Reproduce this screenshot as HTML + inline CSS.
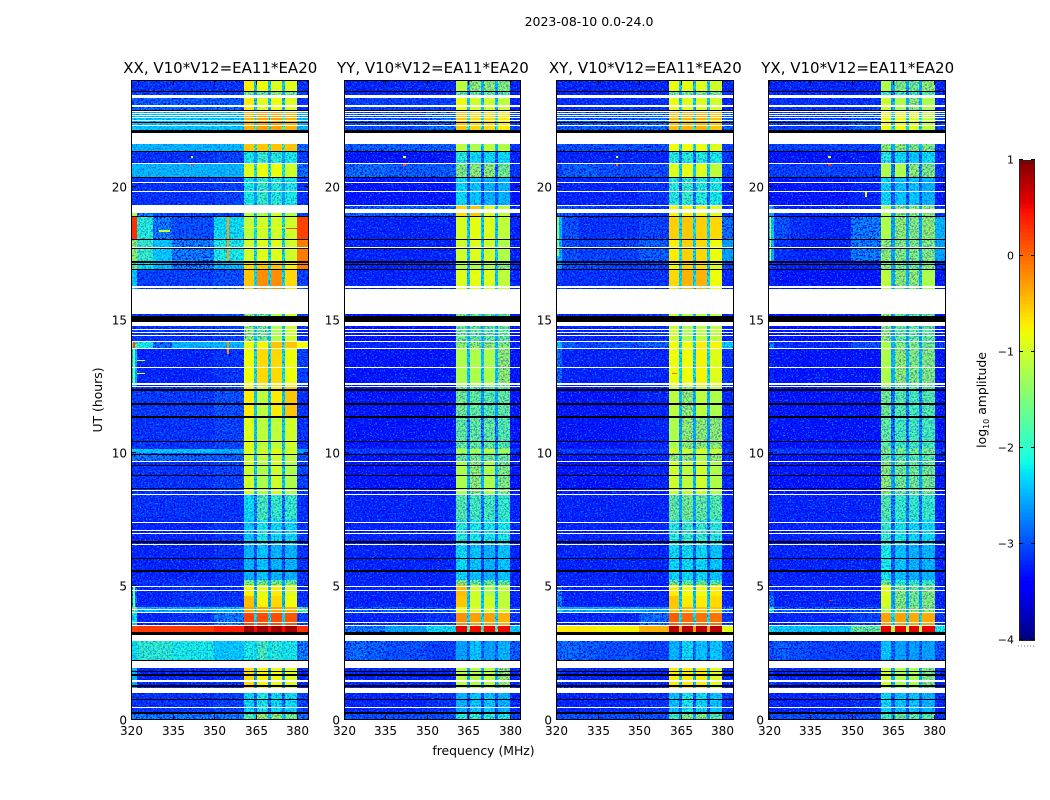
<!DOCTYPE html>
<html lang="en">
<head>
<meta charset="utf-8">
<title>2023-08-10 spectrogram</title>
<style>
html,body{margin:0;padding:0;background:#fff;width:1050px;height:800px;overflow:hidden}
svg{display:block}
text{font-family:"DejaVu Sans","Liberation Sans",sans-serif;fill:#000}
.tick{font-size:12px}
.title{font-size:15px}
.axis{font-size:12.4px}
</style>
</head>
<body>
<svg id="figure" xmlns="http://www.w3.org/2000/svg" width="1050" height="800" viewBox="0 0 1050 800">
  <defs>
    <filter id="speckle-light" x="0" y="0" width="1" height="1" color-interpolation-filters="sRGB">
      <feTurbulence type="fractalNoise" baseFrequency="0.62" numOctaves="2" seed="4"/>
      <feColorMatrix type="matrix" values="0 0 0 0 0  0 0 0 0 0.5  0 0 0 0 1  0 6 0 0 -3.25"/>
    </filter>
    <filter id="speckle-dark" x="0" y="0" width="1" height="1" color-interpolation-filters="sRGB">
      <feTurbulence type="fractalNoise" baseFrequency="0.58" numOctaves="2" seed="11"/>
      <feColorMatrix type="matrix" values="0 0 0 0 0  0 0 0 0 0  0 0 0 0 0.94  0 6 0 0 -2.95"/>
    </filter>
  </defs>
  <text x="589" y="26" text-anchor="middle" style="font-size:12.5px">2023-08-10 0.0-24.0</text>
  <text class="axis" transform="translate(102,400) rotate(-90)" text-anchor="middle">UT (hours)</text>
  <text class="axis" x="483.5" y="755" text-anchor="middle">frequency (MHz)</text>
  <text class="axis" transform="translate(986,400) rotate(-90)" text-anchor="middle">log<tspan font-size="8" dy="3">10</tspan><tspan dy="-3"> amplitude</tspan></text>
  <g id="panels"></g>
  <g id="colorbar"></g>
</svg>
<script>
// Band edges in UT hours shared by every polarisation panel.
const timeEdges = [0,0.29,1,2.23,3.17,3.51,4,4.22,4.65,5.05,5.23,6.55,7.5,8.42,9.7,10,10.15,11.35,12.51,13.94,14.2,15.22,16.16,16.87,17.17,18,18.86,19.3,20.36,20.84,21.32,22,22.84,23.33,23.58,24];
// Frequency channel edges in MHz.
const freqEdges = [320,322,328,335,350,360.8,364.6,365.7,369.7,370.8,374.7,375.8,380.2,384];
// Which level column each frequency channel reads.
const channelColumn = [0,1,2,3,4,5,9,6,9,7,9,8,10];
// Masked (blank) and flagged (black) UT intervals.
const blankRows = [[0.43,0.48],[1,1.19],[1.42,1.48],[1.94,2.18],[2.95,3.17],[3.51,3.55],[3.62,3.66],[4,4.03],[4.1,4.13],[4.83,4.87],[4.97,5],[6.55,6.6],[6.96,7],[7.07,7.11],[7.37,7.41],[8.42,8.46],[8.57,8.61],[9.65,9.7],[12.49,12.53],[12.57,12.61],[13.19,13.23],[13.9,13.94],[14.18,14.22],[14.39,14.43],[14.52,14.55],[14.62,14.65],[14.77,14.92],[15.22,16.17],[16.19,16.27],[17.7,17.75],[19.27,19.31],[19,19.16],[19.78,19.82],[20.13,20.17],[20.85,20.88],[21.6,22.02],[22.27,22.31],[22.47,22.5],[22.57,22.6],[22.65,22.68],[22.74,22.77],[22.81,22.84],[22.98,23.06],[23.33,23.43]];
const blackRows = [[0.21,0.29],[0.74,0.78],[1.23,1.28],[1.65,1.69],[1.78,1.83],[2.2,2.23],[3.17,3.28],[5.55,5.61],[6.03,6.07],[6.64,6.7],[8.65,8.69],[9.14,9.18],[9.52,9.55],[9.93,9.97],[10.4,10.44],[11.33,11.39],[11.8,11.86],[12.33,12.4],[14.92,15.14],[16.87,16.9],[17.05,17.08],[17.15,17.19],[17.67,17.7],[18.01,18.05],[18.84,18.88],[20.32,20.36],[21.3,21.34],[22.02,22.14],[22.4,22.44],[22.85,22.88],[23.57,23.6]];
// log10 amplitude per band; columns: edge, 322-328, 328-335, 335-350, 350-360, four passbands, notch, 380+.
const xxLevels = [
[-2.6,-2.6,-2.6,-2.6,-2.6,-1.7,-1.3,-1.3,-1.5,-2.3,-2.7],
[-3.1,-3.1,-3.1,-3.1,-3.0,-2.2,-2.1,-2.2,-2.2,-2.7,-3.0],
[-2.4,-3.2,-3.2,-3.2,-3.1,-0.6,-0.75,-0.8,-0.9,-2.5,-3.2],
[-2.2,-1.95,-1.95,-2.1,-2.3,-2.1,-1.8,-2.0,-2.1,-2.2,-2.6],
[0.2,0.25,0.25,0.25,0.4,0.85,0.85,0.85,0.85,0.5,0.3],
[-2.2,-3.2,-3.2,-3.1,-2.6,0.2,0.15,0.15,0.1,-2.2,-3.0],
[-1.5,-2.4,-2.4,-2.4,-2.3,-0.3,-0.3,-0.3,-0.4,-1.8,-1.7],
[-2.6,-3.2,-3.2,-3.1,-3.1,-0.45,-0.75,-0.6,-0.8,-2.4,-3.1],
[-2.6,-3.2,-3.2,-3.1,-3.1,-0.75,-0.85,-0.7,-0.9,-2.4,-3.1],
[-3.1,-3.1,-3.1,-3.1,-3.1,-1.5,-1.6,-1.6,-1.6,-2.5,-3.1],
[-3.2,-3.2,-3.2,-3.2,-3.1,-2.4,-2.3,-2.4,-2.4,-2.9,-3.1],
[-3.2,-3.2,-3.2,-3.2,-3.1,-2.3,-2.1,-2.2,-2.2,-2.7,-3.1],
[-3.1,-3.1,-3.1,-3.1,-3.1,-2.2,-1.8,-1.9,-1.9,-2.6,-3.1],
[-3.1,-3.1,-3.1,-3.1,-3.0,-1.0,-1.2,-1.0,-1.2,-2.3,-3.0],
[-2.7,-2.7,-2.7,-2.8,-2.8,-1.0,-1.1,-1.0,-1.1,-2.3,-2.9],
[-2.2,-2.3,-2.3,-2.3,-2.4,-0.9,-1.0,-0.85,-1.0,-2.0,-2.5],
[-3.1,-3.1,-3.1,-3.1,-3.0,-0.9,-1.1,-1.1,-1.0,-2.3,-3.1],
[-3.05,-3.05,-3.05,-3.05,-2.9,-0.7,-1.1,-0.7,-0.5,-2.3,-3.1],
[-2.4,-3.2,-3.2,-3.2,-3.1,-0.8,-0.6,-0.6,-0.8,-2.2,-3.0],
[-1.6,-2.1,-2.7,-2.4,-2.4,-0.8,-0.75,-0.5,-0.5,-2.0,-0.8],
[-3.1,-3.1,-3.1,-3.1,-3.0,-1.3,-1.5,-1.2,-1.0,-2.3,-3.1],
[-3.1,-3.1,-3.1,-3.1,-3.0,-1.3,-1.5,-1.2,-1.0,-2.3,-3.1],
[-2.3,-3.0,-3.0,-3.0,-2.9,-0.5,-0.2,-0.2,-0.6,-2.2,-3.0],
[-1.5,-2.2,-2.4,-2.6,-2.4,-0.6,-0.5,-0.5,-0.7,-2.2,-0.1],
[-1.3,-1.9,-2.3,-2.6,-2.1,-1.0,-0.9,-0.9,-1.0,-2.2,-0.1],
[0.3,-2.0,-2.6,-2.9,-2.2,-1.1,-1.0,-1.0,-1.0,-2.2,0.2],
[-1.2,-2.6,-2.9,-3.0,-3.0,-1.1,-1.2,-1.0,-1.2,-2.3,-3.0],
[-3.1,-3.1,-3.1,-3.1,-3.0,-2.1,-1.9,-2.0,-2.1,-2.5,-3.1],
[-2.4,-2.4,-2.4,-2.4,-2.4,-0.9,-0.8,-0.8,-1.0,-2.1,-2.7],
[-3.1,-3.1,-3.1,-3.1,-3.0,-2.1,-1.9,-2.0,-2.1,-2.5,-3.0],
[-2.4,-2.4,-2.4,-2.4,-2.4,-0.5,-0.5,-0.5,-0.5,-1.8,-2.7],
[-2.3,-2.3,-2.3,-2.3,-2.3,-0.4,-0.3,-0.3,-0.4,-1.8,-2.4],
[-2.8,-2.8,-2.8,-2.8,-2.8,-0.7,-0.9,-0.8,-0.9,-2.3,-3.1],
[-3.0,-3.0,-3.0,-3.0,-3.0,-1.5,-1.6,-1.3,-1.5,-2.5,-3.0],
[-3.1,-3.1,-3.1,-3.1,-3.1,-0.7,-0.8,-0.9,-0.9,-2.3,-3.1]
];
const yyLevels = [
[-2.9,-2.9,-2.9,-2.9,-2.9,-2.0,-1.9,-2.0,-2.1,-2.7,-3.0],
[-3.2,-3.2,-3.2,-3.2,-3.1,-2.4,-2.3,-2.3,-2.4,-2.9,-3.2],
[-3.1,-3.2,-3.2,-3.2,-3.2,-1.1,-1.2,-1.1,-1.3,-2.4,-3.2],
[-2.8,-2.7,-2.8,-2.9,-3.0,-2.5,-2.3,-2.5,-2.4,-2.7,-2.8],
[-2.6,-2.6,-2.6,-2.5,-2.2,0.55,0.5,0.5,0.5,-1.6,-2.3],
[-3.2,-3.2,-3.2,-3.2,-3.1,-0.2,-0.3,-0.3,-0.4,-2.2,-3.1],
[-2.8,-2.8,-2.8,-2.8,-2.8,-0.8,-0.9,-0.9,-1.0,-2.2,-2.9],
[-3.2,-3.2,-3.2,-3.2,-3.2,-0.5,-1.0,-1.0,-1.1,-2.3,-3.2],
[-3.2,-3.2,-3.2,-3.2,-3.2,-0.45,-1.0,-1.2,-1.1,-2.3,-3.2],
[-3.2,-3.2,-3.2,-3.2,-3.2,-1.4,-1.6,-1.6,-1.7,-2.6,-3.2],
[-3.2,-3.2,-3.2,-3.2,-3.2,-2.2,-2.3,-2.4,-2.3,-2.9,-3.2],
[-3.2,-3.2,-3.2,-3.2,-3.2,-2.0,-2.1,-2.1,-2.1,-2.7,-3.2],
[-3.2,-3.2,-3.2,-3.2,-3.2,-1.7,-1.8,-1.8,-1.9,-2.6,-3.2],
[-3.3,-3.3,-3.3,-3.3,-3.3,-1.2,-1.3,-1.2,-1.4,-2.4,-3.3],
[-3.3,-3.3,-3.3,-3.3,-3.3,-1.6,-1.5,-1.5,-1.6,-2.4,-3.3],
[-3.0,-3.0,-3.0,-3.0,-3.0,-1.2,-1.2,-1.1,-1.2,-2.4,-3.0],
[-3.3,-3.3,-3.3,-3.3,-3.3,-1.6,-1.6,-1.6,-1.7,-2.6,-3.3],
[-3.3,-3.3,-3.3,-3.3,-3.3,-1.5,-1.6,-1.7,-1.6,-2.5,-3.3],
[-3.3,-3.3,-3.3,-3.3,-3.3,-1.2,-1.2,-1.2,-1.3,-2.3,-3.3],
[-3.2,-3.2,-3.2,-3.2,-3.2,-1.3,-1.3,-1.3,-1.4,-2.3,-3.2],
[-3.3,-3.3,-3.3,-3.3,-3.3,-1.5,-1.6,-1.6,-1.6,-2.4,-3.3],
[-3.3,-3.3,-3.3,-3.3,-3.3,-1.5,-1.6,-1.6,-1.6,-2.4,-3.3],
[-3.2,-3.2,-3.2,-3.2,-3.2,-0.9,-0.85,-0.9,-1.1,-2.3,-3.2],
[-3.2,-3.2,-3.2,-3.2,-3.2,-1.2,-1.2,-1.2,-1.3,-2.4,-3.2],
[-3.2,-3.2,-3.2,-3.2,-3.2,-1.0,-0.9,-1.0,-1.2,-2.3,-3.2],
[-3.2,-3.2,-3.2,-3.2,-3.2,-0.95,-0.85,-0.9,-1.1,-2.3,-3.2],
[-2.8,-2.8,-2.8,-2.8,-2.8,-0.6,-0.5,-0.9,-1.1,-2.3,-3.2],
[-3.3,-3.3,-3.3,-3.3,-3.3,-2.2,-2.3,-2.4,-2.4,-2.9,-3.3],
[-2.8,-2.7,-2.7,-2.8,-2.8,-1.4,-1.3,-1.3,-1.5,-2.7,-3.1],
[-3.3,-3.3,-3.3,-3.3,-3.3,-2.0,-2.2,-2.2,-2.2,-2.8,-3.2],
[-2.8,-2.8,-2.8,-2.8,-2.8,-1.1,-1.2,-1.1,-1.2,-2.3,-3.1],
[-2.9,-2.9,-2.9,-2.9,-2.7,-0.5,-0.6,-0.6,-0.7,-2.1,-3.0],
[-3.0,-3.0,-3.0,-3.0,-3.0,-0.8,-1.0,-1.0,-1.1,-2.3,-3.2],
[-3.2,-3.2,-3.2,-3.2,-3.2,-1.6,-1.6,-1.6,-1.7,-2.6,-3.2],
[-3.2,-3.2,-3.2,-3.2,-3.2,-1.1,-1.3,-1.3,-1.4,-2.4,-3.2]
];
const xyLevels = [
[-2.9,-2.9,-2.9,-2.9,-2.9,-1.9,-1.4,-1.4,-1.7,-2.5,-3.0],
[-3.2,-3.2,-3.2,-3.2,-3.1,-2.3,-2.1,-2.2,-2.3,-2.8,-3.1],
[-3.0,-3.2,-3.2,-3.2,-3.2,-0.7,-0.7,-0.7,-0.9,-2.3,-3.2],
[-2.8,-2.7,-2.8,-2.9,-3.0,-2.4,-2.2,-2.3,-2.3,-2.7,-2.8],
[-0.7,-0.7,-0.7,-0.75,-0.4,0.75,0.75,0.75,0.75,-0.3,-0.9],
[-3.2,-3.2,-3.2,-3.2,-2.7,0.05,0.0,-0.05,-0.05,-2.2,-3.1],
[-2.2,-2.4,-2.4,-2.4,-2.5,-0.5,-0.4,-0.5,-0.5,-2.0,-2.6],
[-2.6,-3.2,-3.2,-3.2,-3.2,-0.5,-0.7,-0.7,-0.6,-2.3,-3.2],
[-2.6,-3.2,-3.2,-3.2,-3.2,-0.7,-0.8,-0.8,-0.7,-2.3,-3.2],
[-3.2,-3.2,-3.2,-3.2,-3.2,-1.6,-1.7,-1.7,-1.8,-2.6,-3.2],
[-3.2,-3.2,-3.2,-3.2,-3.2,-2.2,-2.2,-2.2,-2.3,-2.8,-3.2],
[-3.2,-3.2,-3.2,-3.2,-3.2,-2.0,-1.9,-1.9,-2.0,-2.6,-3.2],
[-3.2,-3.2,-3.2,-3.2,-3.2,-1.6,-1.5,-1.6,-1.7,-2.5,-3.2],
[-3.3,-3.3,-3.3,-3.3,-3.2,-1.0,-1.1,-1.0,-1.2,-2.4,-3.2],
[-3.3,-3.3,-3.3,-3.3,-3.2,-1.3,-1.3,-1.2,-1.3,-2.4,-3.2],
[-3.0,-3.0,-3.0,-3.0,-3.0,-0.9,-1.0,-0.9,-1.0,-2.2,-3.0],
[-3.3,-3.3,-3.3,-3.3,-3.2,-1.2,-1.3,-1.3,-1.3,-2.5,-3.2],
[-3.3,-3.3,-3.3,-3.3,-3.2,-1.1,-1.3,-1.1,-1.2,-2.4,-3.2],
[-2.7,-3.2,-3.2,-3.2,-3.2,-0.8,-0.8,-0.75,-0.9,-2.2,-3.1],
[-2.4,-2.8,-3.0,-2.9,-2.8,-0.8,-0.8,-0.7,-0.75,-2.2,-2.3],
[-3.2,-3.2,-3.2,-3.2,-3.1,-1.0,-1.2,-1.1,-1.1,-2.3,-3.2],
[-3.2,-3.2,-3.2,-3.2,-3.1,-1.0,-1.2,-1.1,-1.1,-2.3,-3.2],
[-3.0,-3.1,-3.1,-3.1,-3.1,-0.6,-0.4,-0.4,-0.8,-2.2,-3.2],
[-2.5,-2.9,-3.0,-3.0,-3.0,-0.75,-0.55,-0.6,-0.9,-2.3,-3.0],
[-2.4,-2.9,-3.0,-3.0,-2.8,-0.7,-0.55,-0.6,-0.8,-2.2,-2.5],
[-2.4,-2.9,-3.1,-3.1,-3.0,-0.55,-0.5,-0.55,-0.6,-2.2,-2.7],
[-2.8,-2.9,-3.0,-3.1,-3.1,-0.75,-0.75,-0.75,-0.9,-2.3,-3.1],
[-3.2,-3.2,-3.2,-3.2,-3.1,-2.0,-1.9,-2.0,-2.1,-2.7,-3.2],
[-3.0,-2.8,-2.8,-2.9,-2.9,-0.9,-0.85,-0.9,-1.1,-2.3,-3.0],
[-3.2,-3.2,-3.2,-3.2,-3.2,-2.0,-2.0,-2.0,-2.1,-2.7,-3.1],
[-2.9,-2.9,-2.9,-2.9,-2.9,-0.8,-0.8,-0.8,-0.9,-2.2,-3.0],
[-2.8,-2.8,-2.8,-2.8,-2.7,-0.45,-0.4,-0.4,-0.5,-2.0,-2.8],
[-3.1,-3.1,-3.1,-3.1,-3.1,-0.8,-0.9,-0.9,-1.0,-2.3,-3.2],
[-3.2,-3.2,-3.2,-3.2,-3.2,-1.5,-1.5,-1.4,-1.5,-2.5,-3.1],
[-3.2,-3.2,-3.2,-3.2,-3.2,-0.8,-0.85,-0.9,-1.0,-2.3,-3.2]
];
const yxLevels = [
[-2.9,-2.9,-2.9,-2.9,-2.9,-1.8,-1.6,-1.6,-1.7,-2.5,-3.1],
[-3.2,-3.2,-3.2,-3.2,-3.1,-2.2,-2.3,-2.3,-2.4,-2.8,-3.2],
[-3.0,-3.2,-3.2,-3.2,-3.2,-1.0,-1.2,-1.2,-1.4,-2.4,-3.2],
[-2.9,-2.8,-2.9,-3.0,-3.0,-2.3,-2.5,-2.5,-2.5,-2.8,-2.9],
[-2.2,-2.3,-2.3,-2.3,-1.6,0.55,0.55,0.55,0.55,-1.2,-2.1],
[-3.2,-3.2,-3.2,-3.2,-3.0,-0.3,-0.3,-0.35,-0.35,-2.2,-3.1],
[-2.2,-2.8,-2.8,-2.8,-2.8,-1.2,-1.3,-1.3,-1.4,-2.4,-3.0],
[-2.6,-3.2,-3.2,-3.2,-3.2,-0.95,-1.4,-1.5,-1.4,-2.5,-3.2],
[-3.0,-3.2,-3.2,-3.2,-3.2,-0.9,-1.4,-1.5,-1.4,-2.5,-3.2],
[-3.2,-3.2,-3.2,-3.2,-3.2,-1.6,-2.0,-1.9,-1.9,-2.6,-3.2],
[-3.2,-3.2,-3.2,-3.2,-3.2,-2.1,-2.3,-2.4,-2.4,-2.8,-3.2],
[-3.2,-3.2,-3.2,-3.2,-3.2,-1.9,-2.1,-2.2,-2.2,-2.7,-3.2],
[-3.2,-3.2,-3.2,-3.2,-3.2,-1.7,-1.9,-1.9,-1.9,-2.6,-3.2],
[-3.3,-3.3,-3.3,-3.3,-3.3,-1.3,-1.5,-1.5,-1.5,-2.5,-3.3],
[-3.3,-3.3,-3.3,-3.3,-3.3,-1.6,-1.7,-1.7,-1.7,-2.5,-3.3],
[-3.0,-3.0,-3.0,-3.0,-3.0,-1.3,-1.4,-1.4,-1.4,-2.4,-3.0],
[-3.3,-3.3,-3.3,-3.3,-3.3,-1.6,-1.8,-1.8,-1.8,-2.6,-3.3],
[-3.3,-3.3,-3.3,-3.3,-3.3,-1.5,-1.7,-1.8,-1.7,-2.6,-3.3],
[-3.2,-3.3,-3.3,-3.3,-3.3,-1.2,-1.3,-1.4,-1.4,-2.4,-3.3],
[-2.6,-3.1,-3.2,-3.2,-2.9,-1.2,-1.4,-1.4,-1.5,-2.4,-3.0],
[-3.3,-3.3,-3.3,-3.3,-3.3,-1.3,-1.6,-1.6,-1.6,-2.5,-3.3],
[-3.3,-3.3,-3.3,-3.3,-3.3,-1.3,-1.6,-1.6,-1.6,-2.5,-3.3],
[-3.2,-3.3,-3.3,-3.3,-3.3,-1.1,-1.3,-1.3,-1.2,-2.4,-3.3],
[-3.1,-3.2,-3.2,-3.2,-3.2,-1.3,-1.5,-1.5,-1.4,-2.5,-3.2],
[-2.4,-3.1,-3.2,-3.2,-2.6,-1.3,-1.4,-1.4,-1.4,-2.5,-2.5],
[-2.3,-2.9,-3.1,-3.2,-2.6,-1.2,-1.3,-1.4,-1.3,-2.5,-2.4],
[-2.5,-3.1,-3.2,-3.2,-3.1,-1.2,-1.3,-1.3,-1.3,-2.5,-3.1],
[-3.3,-3.3,-3.3,-3.3,-3.2,-2.2,-2.3,-2.3,-2.4,-2.8,-3.3],
[-3.0,-3.0,-3.0,-3.0,-3.0,-1.2,-1.2,-1.3,-1.4,-2.6,-3.1],
[-3.3,-3.3,-3.3,-3.3,-3.3,-2.0,-2.2,-2.3,-2.2,-2.8,-3.2],
[-3.0,-3.0,-3.0,-3.0,-3.0,-1.3,-1.3,-1.4,-1.4,-2.4,-3.1],
[-3.0,-3.0,-3.0,-3.0,-2.8,-0.8,-0.8,-0.9,-1.1,-2.2,-3.0],
[-3.1,-3.1,-3.1,-3.1,-3.1,-1.0,-1.2,-1.3,-1.2,-2.4,-3.2],
[-3.2,-3.2,-3.2,-3.2,-3.2,-1.8,-1.8,-1.8,-1.7,-2.6,-3.2],
[-3.2,-3.2,-3.2,-3.2,-3.2,-1.2,-1.4,-1.5,-1.3,-2.5,-3.2]
];
// Narrow interference features: frequency from, frequency to, UT from, UT to, log10 amplitude.
const xxSpikes = [[354.7,355.4,17.15,18.85,-0.3],[354.7,355.4,13.7,14.2,-0.2],[341.6,342.6,20.78,20.84,0.2],[341.6,342.6,21.08,21.13,-0.7],[322,325,13.45,13.5,-1.0],[322,325,12.98,13.02,-1.0],[330,334,18.3,18.36,-1.0],[360.4,376,18.45,18.48,-0.8],[376,380,18.4,18.45,0.2],[320.6,321.6,13.95,14.2,0.2],[320.6,321.4,4.2,5,-1.5],[320.6,321.4,12.6,13.95,-1.6]];
const yySpikes = [[341.6,342.6,20.78,20.84,0.1],[341.6,342.6,21.08,21.13,-0.8]];
const xySpikes = [[341.6,342.6,20.78,20.84,0.0],[341.6,342.6,21.08,21.13,-0.9],[362,364,12.95,13,0.0],[342,343,4.45,4.5,0.3],[320.4,321.2,17.4,18.85,-1.5]];
const yxSpikes = [[341.6,342.6,20.78,20.84,0.3],[341.6,342.6,21.08,21.13,-0.9],[342,343,4.45,4.5,0.3],[355,355.6,19.6,19.8,-0.7],[320.4,321,17.2,18.9,-1.0]];
// Extra masked interval present only in the XX panel.
const xxExtraBlank = [[19,19.31]];
// Panel titles and axis ticks.
const panelLabels = ['XX','YY','XY','YX'];
const panelSuffix = ', V10*V12=EA11*EA20';
const freqTicks = [320,335,350,365,380];
const timeTicks = [0,5,10,15,20];
const colorTicks = [1,0,-1,-2,-3,-4];

const panelLevels = [xxLevels, yyLevels, xyLevels, yxLevels];
const panelSpikes = [xxSpikes, yySpikes, xySpikes, yxSpikes];
const panelBlanks = [xxExtraBlank, [], [], []];
const panelLeft = [131, 343.6, 556, 768.4];
const plotWidth = 176.6, plotTop = 80, plotBottom = 719.5;
const freqMin = 320, freqMax = 384, timeMax = 24;
const colorMin = -4, colorMax = 1;
const quietLimit = -2.5, brightLimit = -1.25;
const NS = 'http://www.w3.org/2000/svg';

function xScale(left, f) { return left + (f - freqMin) / (freqMax - freqMin) * plotWidth; }
function yScale(t) { return plotBottom - t / timeMax * (plotBottom - plotTop); }
function ramp(v, pts) {
  for (let i = 1; i < pts.length; i++) {
    if (v <= pts[i][0]) {
      const a = pts[i - 1], b = pts[i];
      return a[1] + (b[1] - a[1]) * (v - a[0]) / (b[0] - a[0]);
    }
  }
  return pts[pts.length - 1][1];
}
function jet(level) {
  const v = Math.max(0, Math.min(1, (level - colorMin) / (colorMax - colorMin)));
  const r = ramp(v, [[0,0],[0.35,0],[0.66,1],[0.89,1],[1,0.5]]);
  const g = ramp(v, [[0,0],[0.125,0],[0.375,1],[0.64,1],[0.91,0],[1,0]]);
  const b = ramp(v, [[0,0.5],[0.11,1],[0.34,1],[0.65,0],[1,0]]);
  return 'rgb(' + Math.round(r * 255) + ',' + Math.round(g * 255) + ',' + Math.round(b * 255) + ')';
}
function make(tag, attrs, parent) {
  const el = document.createElementNS(NS, tag);
  for (const k in attrs) el.setAttribute(k, attrs[k]);
  parent.appendChild(el);
  return el;
}
function bandRect(parent, left, f0, f1, t0, t1, fill) {
  const x0 = Math.round(xScale(left, f0)), x1 = Math.max(x0 + 1, Math.round(xScale(left, f1)));
  const y0 = Math.round(yScale(t1)), y1 = Math.max(y0 + 1, Math.round(yScale(t0)));
  return make('rect', {x: x0, y: y0, width: x1 - x0, height: y1 - y0, fill: fill, 'shape-rendering': 'crispEdges'}, parent);
}
function speckleLayer(parent, left, strength) {
  const x = Math.round(left), w = Math.round(left + plotWidth) - x;
  make('rect', {x: x, y: plotTop, width: w, height: plotBottom - plotTop, filter: 'url(#speckle-light)', opacity: strength}, parent);
  make('rect', {x: x, y: plotTop, width: w, height: plotBottom - plotTop, filter: 'url(#speckle-dark)', opacity: strength}, parent);
}

const panelsRoot = document.getElementById('panels');
panelLabels.forEach(function (label, p) {
  const left = panelLeft[p], levels = panelLevels[p];
  const lower = label.toLowerCase();
  const panel = make('g', {}, panelsRoot);
  
  

  const quiet = make('g', {}, panel);
  
  
  const strongSpeckle = make('g', {}, panel);
  
  
  const mid = make('g', {}, panel);
  
  
  const softSpeckle = make('g', {}, panel);
  
  
  const bright = make('g', {}, panel);
  
  

  levels.forEach(function (row, r) {
    channelColumn.forEach(function (col, c) {
      const level = row[col];
      const group = level >= brightLimit ? bright : (level >= quietLimit ? mid : quiet);
      const cell = bandRect(group, left, freqEdges[c], freqEdges[c + 1], timeEdges[r], timeEdges[r + 1], jet(level));
      
      
    });
  });
  speckleLayer(strongSpeckle, left, 1);
  speckleLayer(softSpeckle, left, 0.4);

  panelSpikes[p].forEach(function (s) {
    const spike = bandRect(panel, left, s[0], s[1], s[2], s[3], jet(s[4]));
    
    
  });
  blackRows.forEach(function (g) {
    const flagged = bandRect(panel, left, freqMin, freqMax, g[0], g[1], '#000');
    
    
  });
  blankRows.concat(panelBlanks[p]).forEach(function (g) {
    const blank = bandRect(panel, left, freqMin, freqMax, g[0], g[1], '#fff');
    
    
  });

  const fx0 = Math.round(left), fx1 = Math.round(left + plotWidth);
  const frame = make('rect', {x: fx0 + 0.5, y: 80.5, width: fx1 - fx0, height: 639, fill: 'none', stroke: '#000', 'stroke-width': 1, 'shape-rendering': 'crispEdges'}, panel);
  
  

  freqTicks.forEach(function (f) {
    const x = Math.ceil(xScale(left, f)) + 0.5;
    const tickB = make('line', {x1: x, x2: x, y1: 719, y2: 715, stroke: '#000', 'shape-rendering': 'crispEdges'}, panel);
    
    
    const tickT = make('line', {x1: x, x2: x, y1: 81, y2: 85, stroke: '#000', 'shape-rendering': 'crispEdges'}, panel);
    
    
    const lab = make('text', {x: x, y: 735, 'text-anchor': 'middle', class: 'tick'}, panel);
    lab.textContent = f;
    
    
  });
  timeTicks.forEach(function (t) {
    const y = Math.round(yScale(t)) - 0.5;
    const tickL = make('line', {x1: fx0 + 1, x2: fx0 + 5, y1: y, y2: y, stroke: '#000', 'shape-rendering': 'crispEdges'}, panel);
    
    
    const tickR = make('line', {x1: fx1, x2: fx1 - 4, y1: y, y2: y, stroke: '#000', 'shape-rendering': 'crispEdges'}, panel);
    
    
    const lab = make('text', {x: fx0 - 4, y: y + 5, 'text-anchor': 'end', class: 'tick'}, panel);
    lab.textContent = t;
    
    
  });
  const title = make('text', {x: left + plotWidth / 2 + 1, y: 73, 'text-anchor': 'middle', class: 'title'}, panel);
  title.textContent = label + panelSuffix;
  
  
});

// Colorbar
const cbRoot = document.getElementById('colorbar');
const cbLeft = 1019, cbRight = 1035, cbTop = 160, cbBottom = 640;
function cbScale(v) { return cbBottom - (v - colorMin) / (colorMax - colorMin) * (cbBottom - cbTop); }
const cbSteps = 120;
for (let i = 0; i < cbSteps; i++) {
  const lo = colorMin + (colorMax - colorMin) * i / cbSteps;
  const hi = colorMin + (colorMax - colorMin) * (i + 1) / cbSteps;
  const seg = make('rect', {x: cbLeft, y: cbScale(hi), width: cbRight - cbLeft, height: cbScale(lo) - cbScale(hi) + 0.5, fill: jet((lo + hi) / 2), 'shape-rendering': 'crispEdges'}, cbRoot);
  
  
}
const cbFrame = make('rect', {x: cbLeft + 0.5, y: cbTop + 0.5, width: cbRight - cbLeft - 1, height: cbBottom - cbTop, fill: 'none', stroke: '#222', 'shape-rendering': 'crispEdges'}, cbRoot);


colorTicks.forEach(function (v) {
  const y = Math.round(cbScale(v)) - 0.5;
  const tl = make('line', {x1: cbLeft, x2: cbLeft + 4, y1: y, y2: y, stroke: '#000', 'shape-rendering': 'crispEdges'}, cbRoot);
  
  
  const tr = make('line', {x1: cbRight, x2: cbRight - 4, y1: y, y2: y, stroke: '#000', 'shape-rendering': 'crispEdges'}, cbRoot);
  
  
  const lab = make('text', {x: cbLeft - 5, y: y + 4, 'text-anchor': 'end', style: 'font-size:11px'}, cbRoot);
  lab.textContent = String(v).replace('-', '\u2212');
  
  
});
const cbDots = make('line', {x1: 1018, x2: 1035, y1: 646, y2: 646, stroke: '#777', 'stroke-dasharray': '1 2', 'shape-rendering': 'crispEdges'}, cbRoot);


</script>
</body>
</html>
